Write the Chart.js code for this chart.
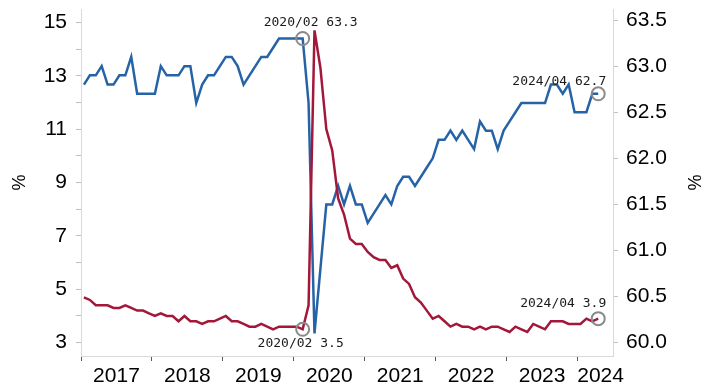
<!DOCTYPE html>
<html>
<head>
<meta charset="utf-8">
<script src="https://cdn.jsdelivr.net/npm/chart.js@4.4.1/dist/chart.umd.min.js"></script>
<style>
  html, body { margin: 0; padding: 0; background: #ffffff; }
  #wrap { width: 702px; height: 387px; position: relative; }
</style>
</head>
<body>
<div id="wrap"><canvas id="chart"></canvas></div>
<script>
// Monthly observations, 2017/01 – 2024/04
const years = ['2017', '2018', '2019', '2020', '2021', '2022', '2023', '2024'];
const months = [];
years.forEach(y => { for (let m = 1; m <= 12; m++) months.push(y + '/' + String(m).padStart(2, '0')); });
const lastSlot = '2024/06';

// Unemployment rate, % (left axis)
const unemployment = [
  4.7, 4.6, 4.4, 4.4, 4.4, 4.3, 4.3, 4.4, 4.3, 4.2, 4.2, 4.1,
  4.0, 4.1, 4.0, 4.0, 3.8, 4.0, 3.8, 3.8, 3.7, 3.8, 3.8, 3.9,
  4.0, 3.8, 3.8, 3.7, 3.6, 3.6, 3.7, 3.6, 3.5, 3.6, 3.6, 3.6,
  3.6, 3.5, 4.4, 14.7, 13.3, 11.0, 10.2, 8.4, 7.8, 6.9, 6.7, 6.7,
  6.4, 6.2, 6.1, 6.1, 5.8, 5.9, 5.4, 5.2, 4.7, 4.5, 4.2, 3.9,
  4.0, 3.8, 3.6, 3.7, 3.6, 3.6, 3.5, 3.6, 3.5, 3.6, 3.6, 3.5,
  3.4, 3.6, 3.5, 3.4, 3.7, 3.6, 3.5, 3.8, 3.8, 3.8, 3.7, 3.7,
  3.7, 3.9, 3.8, 3.9
];

// Labour force participation rate, % (right axis)
const participation = [
  62.8, 62.9, 62.9, 63.0, 62.8, 62.8, 62.9, 62.9, 63.1, 62.7, 62.7, 62.7,
  62.7, 63.0, 62.9, 62.9, 62.9, 63.0, 63.0, 62.6, 62.8, 62.9, 62.9, 63.0,
  63.1, 63.1, 63.0, 62.8, 62.9, 63.0, 63.1, 63.1, 63.2, 63.3, 63.3, 63.3,
  63.3, 63.3, 62.6, 60.1, 60.8, 61.5, 61.5, 61.7, 61.5, 61.7, 61.5, 61.5,
  61.3, 61.4, 61.5, 61.6, 61.5, 61.7, 61.8, 61.8, 61.7, 61.8, 61.9, 62.0,
  62.2, 62.2, 62.3, 62.2, 62.3, 62.2, 62.1, 62.4, 62.3, 62.3, 62.1, 62.3,
  62.4, 62.5, 62.6, 62.6, 62.6, 62.6, 62.6, 62.8, 62.8, 62.7, 62.8, 62.5,
  62.5, 62.5, 62.7, 62.7
];

const leftTicks = [3, 4, 5, 6, 7, 8, 9, 10, 11, 12, 13, 14, 15];
const rightTicks = [60.0, 60.5, 61.0, 61.5, 62.0, 62.5, 63.0, 63.5];
const markedMonths = ['2020/02', '2024/04'];

const RED = '#a3173a';
const BLUE = '#2563a6';
const RING = '#8a8a8a';
const AXIS = '#d9d9d9';
const TICK_FONT = "'Liberation Sans', Arial, sans-serif";
const NOTE_FONT = "13px 'DejaVu Sans Mono', 'Liberation Mono', monospace";

const markedIdx = markedMonths.map(m => months.indexOf(m));
const xMax = months.indexOf(lastSlot) + 0.5;

// year boundaries carry tick marks, year centres carry the labels;
// the label of the last, partial year is kept close to the axis end
const yearLabelAt = new Map();
const yearBoundaries = [];
years.forEach((y, k) => {
  const start = k * 12 - 0.5;
  yearBoundaries.push(start);
  yearLabelAt.set(Math.min(start + 6, xMax - 2.1), y);
});

const toPoints = arr => arr.map((v, i) => ({ x: i, y: v }));
const ringRadius = ctx => markedIdx.includes(ctx.dataIndex) ? 6.5 : 0;

// value callouts next to the ringed points
const notes = [
  { ds: 1, month: '2020/02', align: 'center', dx: 8, dy: -16 },
  { ds: 0, month: '2020/02', align: 'center', dx: -2, dy: 14 },
  { ds: 1, month: '2024/04', align: 'right', dx: 8, dy: -12 },
  { ds: 0, month: '2024/04', align: 'right', dx: 8, dy: -15 }
];

const calloutPlugin = {
  id: 'callouts',
  afterDatasetsDraw(chart) {
    const ctx = chart.ctx;
    ctx.save();
    ctx.font = NOTE_FONT;
    ctx.fillStyle = '#1a1a1a';
    ctx.textBaseline = 'middle';
    notes.forEach(n => {
      const ds = chart.data.datasets[n.ds];
      const i = months.indexOf(n.month);
      const v = ds.data[i].y;
      const px = chart.scales.x.getPixelForValue(i);
      const py = chart.scales[ds.yAxisID].getPixelForValue(v);
      ctx.textAlign = n.align;
      ctx.fillText(n.month + ' ' + v.toFixed(1), px + n.dx, py + n.dy);
    });
    ctx.restore();
  }
};

const noOverflow = s => { s.paddingTop = 0; s.paddingBottom = 0; s.paddingLeft = 0; s.paddingRight = 0; };

new Chart(document.getElementById('chart'), {
  type: 'line',
  data: {
    datasets: [
      {
        label: '失业率',
        data: toPoints(unemployment),
        yAxisID: 'y',
        borderColor: RED,
        borderWidth: 2.5,
        pointRadius: ringRadius,
        pointHoverRadius: ringRadius,
        pointBorderColor: RING,
        pointBackgroundColor: 'rgba(0,0,0,0)',
        pointBorderWidth: 2,
        tension: 0
      },
      {
        label: '劳动参与率',
        data: toPoints(participation),
        yAxisID: 'y2',
        borderColor: BLUE,
        borderWidth: 2.5,
        pointRadius: ringRadius,
        pointHoverRadius: ringRadius,
        pointBorderColor: RING,
        pointBackgroundColor: 'rgba(0,0,0,0)',
        pointBorderWidth: 2,
        tension: 0
      }
    ]
  },
  options: {
    responsive: true,
    maintainAspectRatio: false,
    animation: false,
    layout: { padding: { top: 9, left: 0, right: 0, bottom: 0 } },
    plugins: { legend: { display: false }, tooltip: { enabled: false } },
    scales: {
      x: {
        type: 'linear',
        min: -0.5,
        max: xMax,
        afterBuildTicks: s => {
          const vals = yearBoundaries.concat([...yearLabelAt.keys()]).sort((a, b) => a - b);
          s.ticks = vals.map(v => ({ value: v }));
        },
        afterFit: s => { s.height = 31; noOverflow(s); },
        ticks: {
          autoSkip: false,
          maxRotation: 0,
          padding: 3,
          color: '#000',
          font: { family: TICK_FONT, size: 21 },
          callback: v => yearLabelAt.get(v) || ''
        },
        grid: {
          drawOnChartArea: false,
          tickLength: 5,
          tickColor: ctx => (ctx.tick && yearLabelAt.has(ctx.tick.value)) ? 'rgba(0,0,0,0)' : '#595959'
        },
        border: { color: AXIS, width: 1 }
      },
      y: {
        position: 'left',
        min: 2.5,
        max: 15.5,
        afterBuildTicks: s => { s.ticks = leftTicks.map(v => ({ value: v })); },
        afterFit: s => { s.width = 81; noOverflow(s); },
        ticks: {
          autoSkip: false,
          padding: 9,
          color: '#000',
          font: { family: TICK_FONT, size: 21 },
          callback: v => (v % 2 === 1 ? String(v) : '')
        },
        grid: { drawOnChartArea: false, tickLength: 5, tickColor: '#bfbfbf' },
        border: { color: AXIS, width: 1 },
        title: {
          display: true, text: '%', color: '#000',
          font: { family: TICK_FONT, size: 18, lineHeight: 1 },
          padding: { top: 11, bottom: 0 }
        }
      },
      y2: {
        position: 'right',
        min: 59.855,
        max: 63.62,
        afterBuildTicks: s => { s.ticks = rightTicks.map(v => ({ value: v })); },
        afterFit: s => { s.width = 89; noOverflow(s); },
        ticks: {
          autoSkip: false,
          padding: 8,
          color: '#000',
          font: { family: TICK_FONT, size: 21 },
          callback: v => Number(v).toFixed(1)
        },
        grid: { drawOnChartArea: false, tickLength: 5, tickColor: '#bfbfbf' },
        border: { color: AXIS, width: 1 },
        title: {
          display: true, text: '%', color: '#000',
          font: { family: TICK_FONT, size: 18, lineHeight: 1 },
          padding: { top: 0, bottom: 0 }
        }
      }
    }
  },
  plugins: [calloutPlugin]
});
</script>
</body>
</html>
